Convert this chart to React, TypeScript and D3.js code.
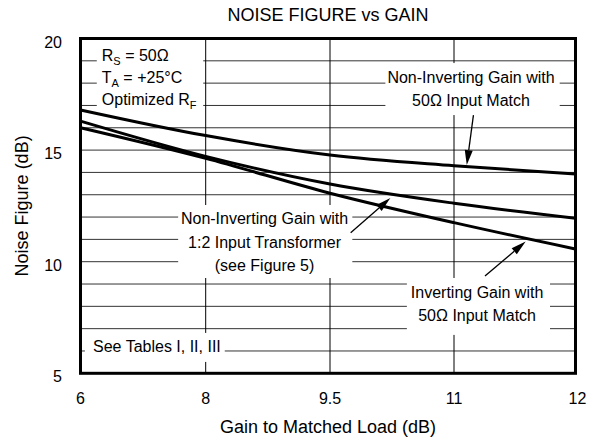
import React from "react"
import * as d3 from "d3"

// gain axis ticks (the original sheet spaces these evenly-ish, not linearly)
const gainTicks = [6, 8, 9.5, 11, 12]
const nfTicks = [5, 10, 15, 20]
const nfGridLines = [6, 7, 8, 9, 10, 11, 12, 13, 14, 15, 16, 17, 18, 19]

// noise figure (dB) read at each gain tick
const nonInv50Match = [16.8, 15.65, 14.78, 14.3, 13.93]
const nonInvTransformer = [16.3, 14.72, 13.48, 12.62, 11.95]
const invertingMatch = [16.0, 14.63, 13.07, 11.75, 10.57]

const series = [nonInv50Match, nonInvTransformer, invertingMatch]

// layout
const width = 600
const height = 440
const margin = { top: 38.5, left: 80.5 }
const plotW = 495
const plotH = 334.8
const xStops = [0, 125.2, 249.5, 373.5, 495]
const font = "'Liberation Sans', Arial, Helvetica, sans-serif"

// annotation boxes (white patches that cut the grid) in data units
const boxes = [
  { x0: 6.26, x1: 7.96, y0: 16.52, y1: 19.7 },
  { x0: 10.17, x1: 11.87, y0: 16.57, y1: 18.9 },
  { x0: 7.56, x1: 9.77, y0: 9.27, y1: 12.54 },
  { x0: 10.43, x1: 11.79, y0: 6.72, y1: 9.27 },
  { x0: 6.07, x1: 8.23, y0: 5.51, y1: 6.81 },
]

const arrows = [
  { from: [11.16, 16.57], to: [11.105, 14.33] },
  { from: [9.75, 11.3], to: [10.23, 12.85] },
  { from: [11.255, 9.36], to: [11.59, 10.9] },
]

const App = () => {
  const xScale = d3
    .scaleLinear()
    .domain(gainTicks)
    .range(xStops.map((s) => margin.left + s))
  const yScale = d3
    .scaleLinear()
    .domain([5, 20])
    .range([margin.top + plotH, margin.top])

  const lineGen = d3
    .line<number>()
    .x((_, i) => xScale(gainTicks[i]))
    .y((d) => yScale(d))
    .curve(d3.curveMonotoneX)

  const x0 = xScale(6)
  const x1 = xScale(12)
  const yTop = yScale(20)
  const yBot = yScale(5)

  const sub = (main: string, s: string, rest = "") => (
    <>
      <tspan>{main}</tspan>
      <tspan fontSize={11} dy={4}>
        {s}
      </tspan>
      <tspan dy={-4}>{rest}</tspan>
    </>
  )

  const textProps = { fontFamily: font, fontSize: 16, fill: "#000" }

  return (
    <svg
      width={width}
      height={height}
      style={{ position: "absolute", left: 0, top: 0, background: "#fff" }}
    >
      <rect width={width} height={height} fill="#fff" />

      {/* grid */}
      {nfGridLines.map((v) => (
        <line
          key={"h" + v}
          x1={x0}
          x2={x1}
          y1={yScale(v)}
          y2={yScale(v)}
          stroke="#333"
          strokeWidth={1}
        />
      ))}
      {gainTicks.slice(1, -1).map((g) => (
        <line
          key={"v" + g}
          x1={xScale(g)}
          x2={xScale(g)}
          y1={yTop}
          y2={yBot}
          stroke="#000"
          strokeWidth={1}
        />
      ))}

      {/* label patches */}
      {boxes.map((b, i) => (
        <rect
          key={"b" + i}
          x={xScale(b.x0)}
          y={yScale(b.y1)}
          width={xScale(b.x1) - xScale(b.x0)}
          height={yScale(b.y0) - yScale(b.y1)}
          fill="#fff"
        />
      ))}

      {/* annotations */}
      <g {...textProps}>
        <text x={xScale(6.34)} y={yScale(19.25)} dy="0.35em">
          {sub("R", "S", " = 50Ω")}
        </text>
        <text x={xScale(6.34)} y={yScale(18.27)} dy="0.35em">
          {sub("T", "A", " = +25°C")}
        </text>
        <text x={xScale(6.34)} y={yScale(17.28)} dy="0.35em">
          {sub("Optimized R", "F")}
        </text>

        <g textAnchor="middle">
          <text x={xScale(11.14)} y={yScale(18.27)} dy="0.35em">
            Non-Inverting Gain with
          </text>
          <text x={xScale(11.14)} y={yScale(17.24)} dy="0.35em">
            50Ω Input Match
          </text>

          <text x={xScale(8.71)} y={yScale(11.95)} dy="0.35em">
            Non-Inverting Gain with
          </text>
          <text x={xScale(8.71)} y={yScale(10.88)} dy="0.35em">
            1:2 Input Transformer
          </text>
          <text x={xScale(8.71)} y={yScale(9.85)} dy="0.35em">
            (see Figure 5)
          </text>

          <text x={xScale(11.19)} y={yScale(8.64)} dy="0.35em">
            Inverting Gain with
          </text>
          <text x={xScale(11.19)} y={yScale(7.61)} dy="0.35em">
            50Ω Input Match
          </text>
        </g>

        <text x={xScale(6.2)} y={yScale(6.22)} dy="0.35em">
          See Tables I, II, III
        </text>
      </g>

      {/* curves */}
      {series.map((s, i) => (
        <path
          key={"s" + i}
          d={lineGen(s) ?? ""}
          fill="none"
          stroke="#000"
          strokeWidth={3}
        />
      ))}

      {/* arrows */}
      {arrows.map((a, i) => {
        const fx = xScale(a.from[0])
        const fy = yScale(a.from[1])
        const tx = xScale(a.to[0])
        const ty = yScale(a.to[1])
        const ang = Math.atan2(ty - fy, tx - fx)
        const len = 15
        const hw = 4
        const bx = tx - len * Math.cos(ang)
        const by = ty - len * Math.sin(ang)
        const px = -Math.sin(ang) * hw
        const py = Math.cos(ang) * hw
        return (
          <g key={"a" + i}>
            <line x1={fx} y1={fy} x2={bx} y2={by} stroke="#000" strokeWidth={1.3} />
            <polygon
              points={`${tx},${ty} ${bx + px},${by + py} ${bx - px},${by - py}`}
              fill="#000"
            />
          </g>
        )
      })}

      {/* frame */}
      <rect
        x={x0}
        y={yTop}
        width={x1 - x0}
        height={yBot - yTop}
        fill="none"
        stroke="#000"
        strokeWidth={3}
      />

      {/* axis labels */}
      <g fontFamily={font} fontSize={16} fill="#000">
        {nfTicks.map((v) => (
          <text key={"yt" + v} x={62} y={yScale(v) + 3.5} dy="0.35em" textAnchor="end">
            {v}
          </text>
        ))}
        {gainTicks.map((g) => (
          <text
            key={"xt" + g}
            x={xScale(g) + (g === 12 ? 2 : 0)}
            y={398}
            dy="0.35em"
            textAnchor="middle"
          >
            {g}
          </text>
        ))}
      </g>

      <text
        x={(x0 + x1) / 2}
        y={21}
        textAnchor="middle"
        fontFamily={font}
        fontSize={18}
      >
        NOISE FIGURE vs GAIN
      </text>
      <text
        x={(x0 + x1) / 2}
        y={433}
        textAnchor="middle"
        fontFamily={font}
        fontSize={18}
      >
        Gain to Matched Load (dB)
      </text>
      <text
        transform={`translate(27.5, ${(yTop + yBot) / 2}) rotate(-90)`}
        textAnchor="middle"
        fontFamily={font}
        fontSize={18}
      >
        Noise Figure (dB)
      </text>
    </svg>
  )
}

export default App
